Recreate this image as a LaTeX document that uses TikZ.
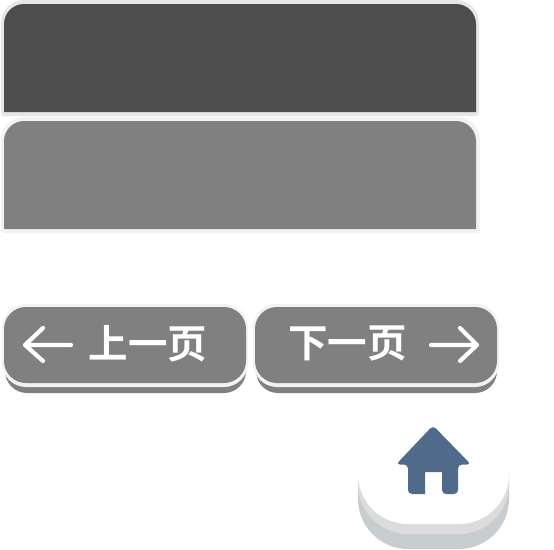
\documentclass[tikz,border=0pt]{standalone}
\usepackage{fontspec}
\newfontfamily\cjk{Noto Sans CJK SC}[BoldFont=* Bold]
\definecolor{darkpanel}{HTML}{4D4D4D}
\definecolor{midgrey}{HTML}{808080}
\definecolor{rimA}{HTML}{E6E6E6}
\definecolor{rimB}{HTML}{F2F2F2}
\definecolor{homeblue}{HTML}{4F6A8A}
\definecolor{homeA}{HTML}{DCDCDC}
\definecolor{homeB}{HTML}{C8CDD0}
\tikzset{
  btnlabel/.style={text=white,font=\cjk\bfseries\fontsize{39.5}{39.5}\selectfont,inner sep=0pt},
  btnarrow/.style={draw=white,line width=4.2pt,line cap=round,line join=round},
}
\begin{document}
\begin{tikzpicture}[x=1pt,y=-1pt]
\useasboundingbox (0,0) rectangle (554,549);
\fill[white] (0,0) rectangle (554,549);
% upper panels
\fill[rimA] (1,113) .. controls (1,115) and (2,116) .. (4,116) -- (476,116) .. controls (478,116) and (479,115) .. (479,113) -- (479,24) .. controls (479,10) and (469,0) .. (455,0) -- (25,0) .. controls (11,0) and (1,10) .. (1,24) -- cycle;
\fill[darkpanel] (4,112) -- (4,24) .. controls (4,13) and (13,4) .. (24,4) -- (456,4) .. controls (467,4) and (476,13) .. (476,24) -- (476,112) -- cycle;
\fill[rimB] (1,230) .. controls (1,232) and (2,233) .. (4,233) -- (477,233) .. controls (479,233) and (480,232) .. (480,230) -- (480,141) .. controls (480,127) and (470,117) .. (456,117) -- (25,117) .. controls (11,117) and (1,127) .. (1,141) -- cycle;
\fill[midgrey] (4,229) -- (4,141) .. controls (4,130) and (13,121) .. (24,121) -- (456,121) .. controls (467,121) and (476,130) .. (476,141) -- (476,229) -- cycle;
% previous button
\fill[midgrey,rounded corners=22pt] (5,340) rectangle (246,393);
\fill[rimB,rounded corners=24pt] (2,304) rectangle (248,387);
\fill[midgrey,rounded corners=22pt] (4,307) rectangle (246,383);
\node[btnlabel] (prev) at (148,343.5) {上一页};
\coordinate (pa) at (25,345);
\coordinate (pb) at (71,345);
\coordinate (pc) at (43,328);
\coordinate (pd) at (43,361);
\draw[btnarrow] (pb) -- (pa) (pc) -- (pa) -- (pd);
% next button
\fill[midgrey,rounded corners=22pt] (256,340) rectangle (497,393);
\fill[rimB,rounded corners=24pt] (253,304) rectangle (499,387);
\fill[midgrey,rounded corners=22pt] (255,307) rectangle (497,383);
\node[btnlabel] (next) at (347.5,343.5) {下一页};
\coordinate (na) at (477,345);
\coordinate (nb) at (431,345);
\coordinate (nc) at (460,328);
\coordinate (nd) at (460,361);
\draw[btnarrow] (nb) -- (na) (nc) -- (na) -- (nd);
% home button
\fill[homeB,rounded corners=50pt] (358,420) rectangle (509,549);
\fill[homeA,rounded corners=50pt] (358,420) rectangle (509,534);
\fill[white,rounded corners=50pt] (358,410) rectangle (509,524);
\fill[homeblue,rounded corners=4pt] (433,425.5) -- (471,464.5) -- (458,464.5) -- (458,494) -- (442,494) [sharp corners] -- (442,472) -- (425,472) -- (425,494) [rounded corners=4pt] -- (408,494) -- (408,464.5) -- (396,464.5) -- cycle;
\end{tikzpicture}
\end{document}
